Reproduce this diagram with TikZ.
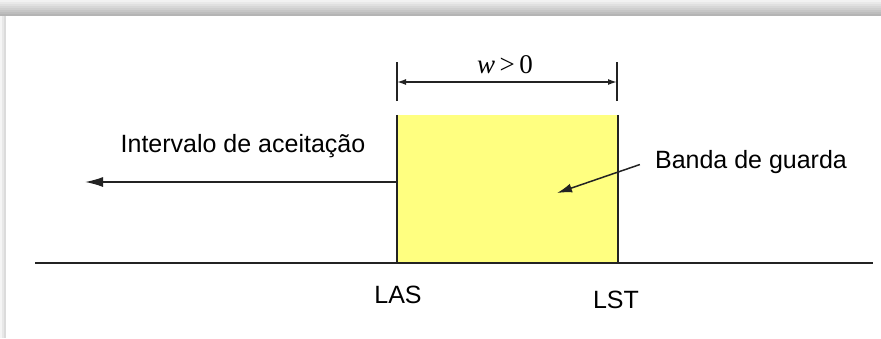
\documentclass[tikz,border=0pt]{standalone}
\usepackage{fontspec}
\setmainfont{Liberation Sans}
\newfontfamily\mathserif{Liberation Serif}
\usetikzlibrary{arrows.meta}

\definecolor{bandyellow}{RGB}{255,255,128}
\definecolor{ink}{RGB}{35,35,35}

\tikzset{
  txt/.style={font=\fontsize{25}{30}\selectfont, text=black, inner sep=0pt, anchor=base},
  rule/.style={draw=ink, line width=2pt},
  thin/.style={draw=ink, line width=1.5pt}
}

\begin{document}
\begin{tikzpicture}[x=1pt,y=-1pt]

        \useasboundingbox (0,0) rectangle (881,338);

        % drop shadow along the top and left edges, darker towards the page
        \foreach \i in {0,...,7}
          \fill[gray!\the\numexpr 10+7*\i\relax] (0,2*\i) rectangle (881,2*\i+2);
        \foreach \i in {0,...,2}
          \fill[gray!\the\numexpr 8+10*\i\relax] (2*\i,16) rectangle (2*\i+2,338);

        % guard band and the axis
        \node[fill=bandyellow, minimum width=221pt, minimum height=148pt,
              inner sep=0pt] (band) at (507.5,189) {};
        \coordinate (axisL) at (35,263);
        \coordinate (axisR) at (873,263);
        \path[rule] (axisL) -- (axisR);
        \path[rule] (band.north west) -- (band.south west);
        \path[rule] (band.north east) -- (band.south east);

        % width of the band
        \coordinate (dimL) at (397,82);
        \coordinate (dimR) at (617,82);
        \path[thin] ([yshift=-19pt]dimL) -- ([yshift=20pt]dimL);
        \path[thin] ([yshift=-19pt]dimR) -- ([yshift=20pt]dimR);
        \path[thin, {Latex[length=9pt,width=6pt]}-{Latex[length=9pt,width=6pt]}]
          (dimL) -- (dimR);

        \begin{scope}[every node/.style={txt}]
          \node[font=\fontsize{27}{32}\selectfont] (wgt) at (505,73)
            {\mathserif\itshape w\upshape\,>\,0};
          \node (accept) at (243,152) {Intervalo de aceitação};
          \node (guard)  at (751,168) {Banda de guarda};
          \node (las)    at (398,303) {LAS};
          \node (lst)    at (616,308) {LST};
        \end{scope}

        % arrows
        \coordinate (acceptEnd) at (85,182);
        \coordinate (guardEnd)  at (557,193);
        \path[thin, -{Latex[length=18pt,width=10pt]}]
          (band.west |- acceptEnd) -- (acceptEnd);
        \path[thin, -{Latex[length=15pt,width=9pt]}]
          ([xshift=-15pt,yshift=-3pt]guard.west) -- (guardEnd);

      \end{tikzpicture}
\end{document}
